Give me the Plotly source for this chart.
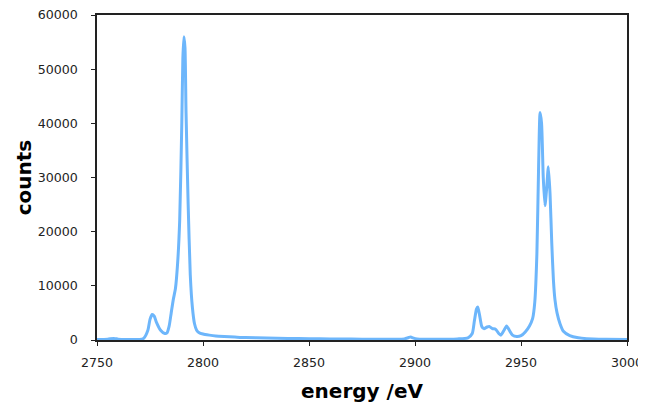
import plotly.graph_objects as go

energy = [2750, 2755, 2758, 2760, 2765, 2770, 2772, 2774, 2775, 2776, 2777, 2778, 2780, 2782, 2783, 2784,
          2785, 2786, 2787, 2788, 2789, 2790, 2790.5, 2791, 2791.5, 2792, 2793, 2794, 2795, 2796, 2797, 2798,
          2800, 2803, 2806, 2810, 2815, 2820, 2830, 2840, 2850, 2860, 2870, 2880, 2890, 2895, 2897, 2898,
          2899, 2901, 2905, 2910, 2915, 2920, 2925, 2927, 2928, 2929, 2929.6, 2930.5, 2931.5, 2932.5, 2934,
          2935, 2936.5, 2938, 2939.5, 2940.5, 2942, 2943.2, 2944.5, 2946, 2948, 2950, 2952, 2954, 2955.5,
          2956.5, 2957.5, 2958.3, 2959, 2959.7, 2960.5, 2961.3, 2962.1, 2962.9, 2963.7, 2964.5, 2965.3,
          2966, 2967, 2968.4, 2970, 2973, 2977, 2981, 2990, 3000]
counts = [100, 150, 300, 150, 100, 100, 300, 1800, 3800, 4700, 4400, 3300, 1800, 1200, 1300, 2500,
          5000, 7500, 9500, 14000, 22000, 40000, 52000, 56000, 54000, 42000, 25000, 12000, 6000, 3000, 1800, 1400,
          1100, 900, 750, 650, 550, 450, 350, 300, 250, 200, 170, 150, 150, 200, 450, 550,
          400, 200, 150, 150, 150, 200, 400, 1200, 3500, 5700, 6100, 4500, 2500, 2100, 2400,
          2500, 2100, 2000, 1200, 900, 1800, 2600, 1800, 900, 650, 800, 1500, 2600, 4000,
          7000, 16000, 32000, 42000, 40000, 30000, 24800, 28000, 32000, 27000, 18000, 11000,
          7500, 5000, 3000, 1600, 800, 400, 250, 150, 100]

x_ticks = [2750, 2800, 2850, 2900, 2950, 3000]
y_ticks = [0, 10000, 20000, 30000, 40000, 50000, 60000]

fig = go.Figure(go.Scatter(x=energy, y=counts, mode="lines",
                           line=dict(color="#6DB6FB", width=3, shape="spline", smoothing=0.6)))

axis_common = dict(showline=True, linecolor="#222", linewidth=1.5, mirror=True,
                   showgrid=False, zeroline=False, ticks="outside", ticklen=4, automargin=False,
                   ticklabeloverflow="allow",
                   tickcolor="#222", tickfont=dict(family="DejaVu Sans", size=12.6, color="#222"))

# The page body has an 8px default margin; the figure is offset by it, so margins compensate.
fig.update_layout(
    width=646, height=396,
    margin=dict(l=89, r=27, t=7, b=64),
    paper_bgcolor="white", plot_bgcolor="white",
    showlegend=False,
    xaxis=dict(range=[2750, 3000], tickvals=x_ticks, ticktext=[str(v) for v in x_ticks],
               ticklabelstandoff=6,
               title=dict(text="<b>energy /eV</b>", font=dict(family="DejaVu Sans", size=20, color="black"),
                          standoff=15), **axis_common),
    yaxis=dict(range=[0, 60000], tickvals=y_ticks, ticktext=[str(v) for v in y_ticks],
               ticklabelstandoff=11,
               title=dict(text="<b>counts</b>", font=dict(family="DejaVu Sans", size=20, color="black"),
                          standoff=1), **axis_common),
)

fig.write_html("out.html", post_script="document.body.style.overflow='hidden';")
